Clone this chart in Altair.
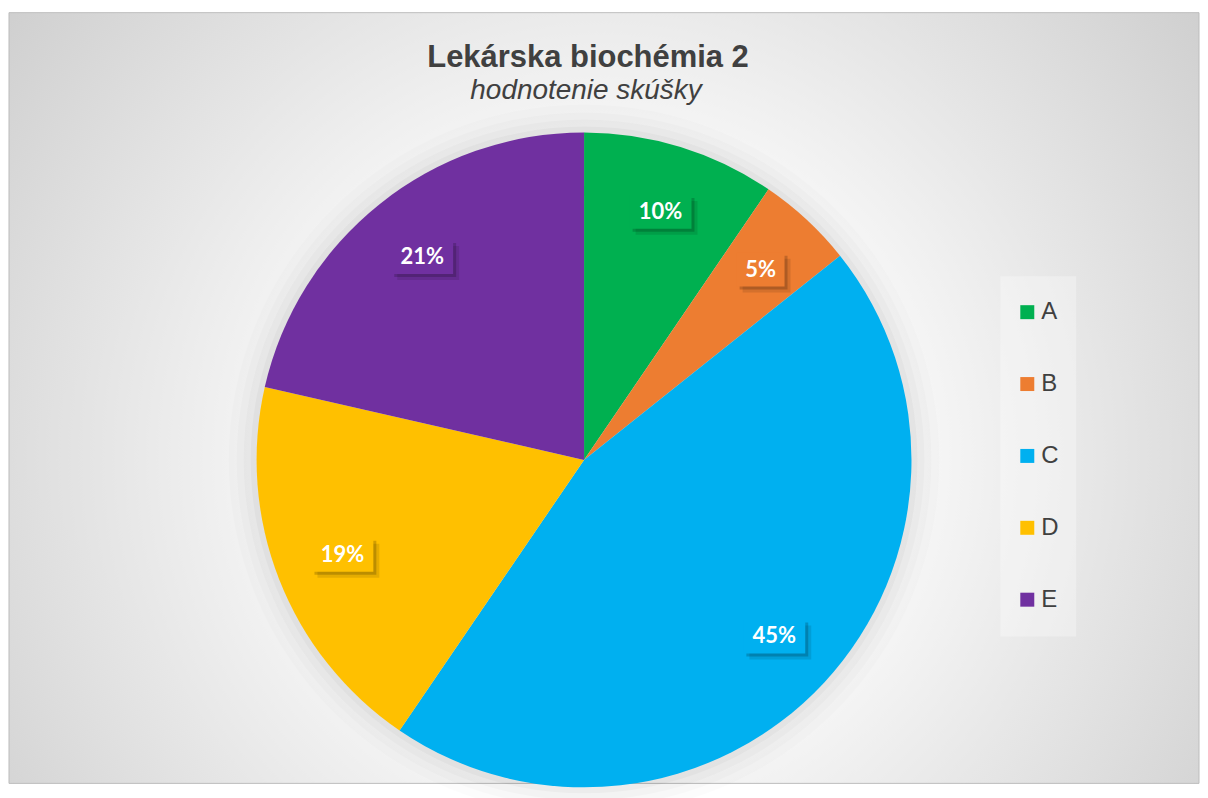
import math
import altair as alt
import pandas as pd

# ---- data ----
categories = ["A", "B", "C", "D", "E"]
counts = [4, 2, 19, 8, 9]
colors = ["#00b050", "#ed7d31", "#00b0f0", "#ffc000", "#7030a0"]
title_text = "Lekárska biochémia 2"
subtitle_text = "hodnotenie skúšky"

# ---- layout constants ----
W, H = 1192, 772
CX, CY, R = 576, 448, 328
LR = 260  # label radius

df = pd.DataFrame({"cat": categories, "count": counts, "idx": list(range(len(categories)))})
one = pd.DataFrame({"k": [0]})

color_scale = alt.Scale(domain=categories, range=colors)

# background with radial gradient
bg = alt.Chart(one).mark_rect(
    fill=alt.Gradient(
        gradient="radial",
        stops=[
            alt.GradientStop(color="#ffffff", offset=0),
            alt.GradientStop(color="#fbfbfb", offset=0.3),
            alt.GradientStop(color="#c3c3c3", offset=1),
        ],
        x1=0.5, y1=0.55, r1=0, x2=0.5, y2=0.55, r2=0.74,
    ),
    stroke="#bdbdbd",
    strokeWidth=1,
).encode(x=alt.value(0), x2=alt.value(W), y=alt.value(0), y2=alt.value(H))

# soft glow around the pie
rings = []
for extra, op in [(28, 0.012), (20, 0.016), (13, 0.02), (6, 0.026)]:
    rings.append(
        alt.Chart(one).mark_arc(theta=0, theta2=2 * math.pi, radius=R + extra,
                                fill="#000000", opacity=op)
        .encode(x=alt.value(CX), y=alt.value(CY))
    )

pie = alt.Chart(df).mark_arc(radius=R).encode(
    theta=alt.Theta("count:Q", stack=True),
    order=alt.Order("idx:Q"),
    color=alt.Color(
        "cat:N",
        scale=color_scale,
        legend=alt.Legend(
            orient="none", legendX=1008, legendY=288, title=None,
            symbolType="square", symbolSize=196, symbolStrokeWidth=0,
            labelFontSize=24, labelFont="Liberation Sans", labelColor="#404040",
            rowPadding=48, labelOffset=2, padding=0,
        ),
    ),
    x=alt.value(CX),
    y=alt.value(CY),
)

lab = alt.Chart(df).transform_joinaggregate(
    total="sum(count)"
).transform_window(
    cum="sum(count)", sort=[alt.SortField("idx")], frame=[None, 0]
).transform_calculate(
    mid="(datum.cum - datum.count/2) / datum.total * 2 * PI",
    lx=f"{CX} + {LR} * sin(datum.mid)",
    ly=f"{CY} - {LR} * cos(datum.mid)",
    label="round(datum.count / datum.total * 100) + '%'",
    hw="10 + 7 * length(datum.label)",
).transform_calculate(
    bx1="datum.lx - datum.hw", bx2="datum.lx + datum.hw",
    by1="datum.ly - 17", by2="datum.ly + 17",
)

def box(dx, dy, **kw):
    return lab.transform_calculate(
        sx1=f"datum.bx1 + {dx}", sx2=f"datum.bx2 + {dx}",
        sy1=f"datum.by1 + {dy}", sy2=f"datum.by2 + {dy}",
    ).mark_rect(**kw).encode(
        x=alt.X("sx1:Q", scale=None, axis=None),
        x2="sx2:Q",
        y=alt.Y("sy1:Q", scale=None, axis=None),
        y2="sy2:Q",
    )

shadow1 = box(6, 6, fill="#000000", opacity=0.10)
shadow2 = box(3, 3, fill="#000000", opacity=0.18)
boxes = lab.mark_rect().encode(
    x=alt.X("bx1:Q", scale=None, axis=None),
    x2="bx2:Q",
    y=alt.Y("by1:Q", scale=None, axis=None),
    y2="by2:Q",
    color=alt.Color("cat:N", scale=color_scale, legend=None),
)
texts = lab.mark_text(
    font="Lato", fontWeight="bold", fontSize=22, color="#ffffff",
    align="center", baseline="middle",
).encode(
    x=alt.X("lx:Q", scale=None, axis=None),
    y=alt.Y("ly:Q", scale=None, axis=None),
    text="label:N",
)

legend_box = alt.Chart(one).mark_rect(fill="#ffffff", opacity=0.3).encode(
    x=alt.value(993), x2=alt.value(1069), y=alt.value(264), y2=alt.value(625)
)

title = alt.Chart(pd.DataFrame({"t": [title_text]})).mark_text(
    font="Liberation Sans", fontWeight="bold", fontSize=31, color="#404040",
    align="center", baseline="alphabetic",
).encode(text="t:N", x=alt.value(580), y=alt.value(54))

subtitle = alt.Chart(pd.DataFrame({"t": [subtitle_text]})).mark_text(
    font="Liberation Sans", fontStyle="italic", fontSize=28, color="#404040",
    align="center", baseline="alphabetic",
).encode(text="t:N", x=alt.value(578), y=alt.value(86))

chart = alt.layer(
    bg, *rings, legend_box, pie, shadow1, shadow2, boxes, texts, title, subtitle
).properties(
    width=W, height=H,
    padding={"left": 0, "top": 3, "right": 0, "bottom": 0},
    background="#ffffff",
).configure_view(stroke=None)

chart.save("out.html", embed_options={"renderer": "svg", "actions": False})
